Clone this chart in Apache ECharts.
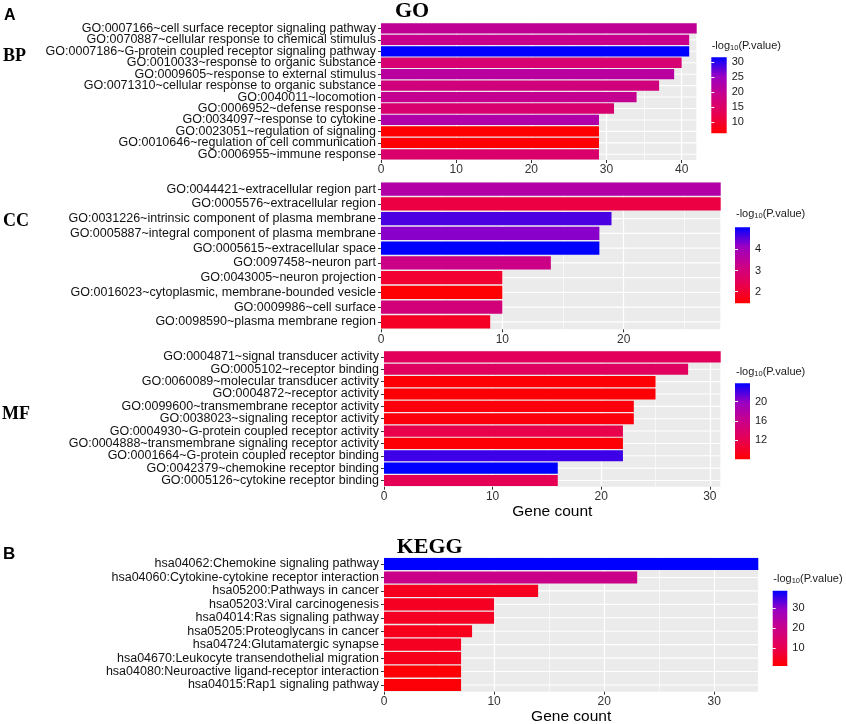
<!DOCTYPE html>
<html><head><meta charset="utf-8">
<script src="https://cdn.jsdelivr.net/npm/echarts@6.0.0/dist/echarts.min.js"></script>
<style>html,body{margin:0;padding:0;background:#fff}#c{width:846px;height:724px}</style>
</head><body><div id="c"></div>
<script>
// ---------- DATA ----------
const bpTerms = [
  "GO:0007166~cell surface receptor signaling pathway",
  "GO:0070887~cellular response to chemical stimulus",
  "GO:0007186~G-protein coupled receptor signaling pathway",
  "GO:0010033~response to organic substance",
  "GO:0009605~response to external stimulus",
  "GO:0071310~cellular response to organic substance",
  "GO:0040011~locomotion",
  "GO:0006952~defense response",
  "GO:0034097~response to cytokine",
  "GO:0023051~regulation of signaling",
  "GO:0010646~regulation of cell communication",
  "GO:0006955~immune response"
];
const bpCounts = [42, 41, 41, 40, 39, 37, 34, 31, 29, 29, 29, 29];
const bpLogP = [20.3, 19.3, 31.7, 16.5, 21.3, 17.7, 19.8, 16.0, 22.3, 6.3, 6.5, 15.7];

const ccTerms = [
  "GO:0044421~extracellular region part",
  "GO:0005576~extracellular region",
  "GO:0031226~intrinsic component of plasma membrane",
  "GO:0005887~integral component of plasma membrane",
  "GO:0005615~extracellular space",
  "GO:0097458~neuron part",
  "GO:0043005~neuron projection",
  "GO:0016023~cytoplasmic, membrane-bounded vesicle",
  "GO:0009986~cell surface",
  "GO:0098590~plasma membrane region"
];
const ccCounts = [28, 28, 19, 18, 18, 14, 10, 10, 10, 9];
const ccLogP = [3.7, 2.2, 4.6, 4.25, 5.04, 3.2, 2.0, 1.5, 3.0, 1.85];

const mfTerms = [
  "GO:0004871~signal transducer activity",
  "GO:0005102~receptor binding",
  "GO:0060089~molecular transducer activity",
  "GO:0004872~receptor activity",
  "GO:0099600~transmembrane receptor activity",
  "GO:0038023~signaling receptor activity",
  "GO:0004930~G-protein coupled receptor activity",
  "GO:0004888~transmembrane signaling receptor activity",
  "GO:0001664~G-protein coupled receptor binding",
  "GO:0042379~chemokine receptor binding",
  "GO:0005126~cytokine receptor binding"
];
const mfCounts = [31, 28, 25, 25, 23, 23, 22, 22, 22, 16, 16];
const mfLogP = [12.7, 13.0, 8.3, 8.3, 8.6, 8.6, 11.8, 8.3, 22.2, 23.8, 12.3];

const keggTerms = [
  "hsa04062:Chemokine signaling pathway",
  "hsa04060:Cytokine-cytokine receptor interaction",
  "hsa05200:Pathways in cancer",
  "hsa05203:Viral carcinogenesis",
  "hsa04014:Ras signaling pathway",
  "hsa05205:Proteoglycans in cancer",
  "hsa04724:Glutamatergic synapse",
  "hsa04670:Leukocyte transendothelial migration",
  "hsa04080:Neuroactive ligand-receptor interaction",
  "hsa04015:Rap1 signaling pathway"
];
const keggCounts = [34, 23, 14, 10, 10, 8, 7, 7, 7, 7];
const keggLogP = [38.8, 20.0, 4.9, 5.2, 5.2, 4.5, 5.0, 4.5, 1.5, 2.0];

const bpCountTicks = [0, 10, 20, 30, 40];
const ccCountTicks = [0, 10, 20];
const mfCountTicks = [0, 10, 20, 30];
const keggCountTicks = [0, 10, 20, 30];

const bpRange = [6.3, 31.7], bpLegendTicks = [10, 15, 20, 25, 30];
const ccRange = [1.45, 5.04], ccLegendTicks = [2, 3, 4];
const mfRange = [8.0, 23.8], mfLegendTicks = [12, 16, 20];
const keggRange = [1.15, 38.8], keggLegendTicks = [10, 20, 30];

const xMaxes = {bp: 42, cc: 28, mf: 31, kegg: 34};
const legendTitle = "-log{s|10}(P.value)";
const axisName = "Gene count";

// ---------- LAYOUT / STYLE ----------
const SANS = '"Liberation Sans", Arial, sans-serif';
const SERIF = '"Liberation Serif", "Times New Roman", serif';
const gradColors = ['#FF0000', '#E80050', '#CA0089', '#9A00C3', '#0000FF'];

const panels = [
  {terms: bpTerms, counts: bpCounts, logp: bpLogP, xMax: xMaxes.bp, ticks: bpCountTicks,
   range: bpRange, lticks: bpLegendTicks, name: '',
   grid: {left: 381, top: 22.7, width: 315.7, height: 137.3},
   leg: {left: 711.3, top: 57.3, width: 15.4, height: 76}, lt: {left: 711.7, top: 40}},
  {terms: ccTerms, counts: ccCounts, logp: ccLogP, xMax: xMaxes.cc, ticks: ccCountTicks,
   range: ccRange, lticks: ccLegendTicks, name: '',
   grid: {left: 381, top: 181.7, width: 339.7, height: 147.6},
   leg: {left: 735, top: 227.3, width: 15, height: 76}, lt: {left: 736, top: 208}},
  {terms: mfTerms, counts: mfCounts, logp: mfLogP, xMax: xMaxes.mf, ticks: mfCountTicks,
   range: mfRange, lticks: mfLegendTicks, name: axisName,
   grid: {left: 384, top: 350.7, width: 336.7, height: 136},
   leg: {left: 735, top: 383.3, width: 15, height: 76}, lt: {left: 736, top: 366}},
  {terms: keggTerms, counts: keggCounts, logp: keggLogP, xMax: xMaxes.kegg, ticks: keggCountTicks,
   range: keggRange, lticks: keggLegendTicks, name: axisName,
   grid: {left: 384, top: 557.3, width: 374.3, height: 134.4},
   leg: {left: 772.7, top: 590.7, width: 14.6, height: 75.3}, lt: {left: 773.3, top: 573}}
];

const grids = [], xAxes = [], yAxes = [], series = [], visualMaps = [], graphics = [];

panels.forEach(p => {
  const gi = grids.length;
  grids.push(Object.assign({show: true, backgroundColor: '#EBEBEB', borderWidth: 0, outerBoundsMode: 'none', containLabel: false}, p.grid));
  const xi = xAxes.length;
  xAxes.push({
    type: 'value', gridIndex: gi, min: 0, max: p.xMax, interval: 10, z: 1,
    axisLine: {show: false},
    axisTick: {show: true, length: 3, lineStyle: {color: '#333', width: 1}, customValues: p.ticks},
    axisLabel: {customValues: p.ticks, fontSize: 12, color: '#333', margin: 4, fontFamily: SANS},
    splitLine: {show: true, lineStyle: {color: '#fff', width: 1.2}},
    name: p.name, nameLocation: 'middle', nameGap: 16,
    nameTextStyle: {fontSize: 15.5, color: '#000', fontFamily: SANS, verticalAlign: 'top'}
  });
  xAxes.push({
    type: 'value', gridIndex: gi, min: 0, max: p.xMax, interval: 5, position: 'bottom', z: 0,
    axisLine: {show: false}, axisTick: {show: false}, axisLabel: {show: false},
    splitLine: {show: true, lineStyle: {color: '#fff', width: 0.6}}
  });
  const yi = yAxes.length;
  yAxes.push({
    type: 'category', gridIndex: gi, data: p.terms, inverse: true,
    axisLine: {show: false},
    axisTick: {show: true, length: 3, alignWithLabel: true, lineStyle: {color: '#333'}},
    axisLabel: {interval: 0, fontSize: 12.5, color: '#111', margin: 5, fontFamily: SANS},
    splitLine: {show: false}
  });
  // horizontal gridlines at category centres
  series.push({
    type: 'custom', xAxisIndex: xi, yAxisIndex: yi, z: 1, silent: true,
    data: p.terms.map(t => [0, t]), encode: {x: 0, y: 1},
    renderItem: (params, api) => {
      const y = api.coord([0, api.value(1)])[1];
      const cs = params.coordSys;
      return {type: 'line', shape: {x1: cs.x, y1: y, x2: cs.x + cs.width, y2: y},
              style: {stroke: '#fff', lineWidth: 1.1}};
    }
  });
  const si = series.length;
  series.push({
    type: 'bar', xAxisIndex: xi, yAxisIndex: yi, z: 2,
    data: p.terms.map((t, k) => [p.counts[k], t, p.logp[k]]),
    encode: {x: 0, y: 1}, barCategoryGap: '10%'
  });
  visualMaps.push({
    type: 'continuous', show: false, seriesIndex: si, dimension: 2,
    min: p.range[0], max: p.range[1], inRange: {color: gradColors}
  });

  // colourbar legend
  const lg = grids.length;
  grids.push(Object.assign({show: false, outerBoundsMode: 'none', containLabel: false}, p.leg));
  const lx = xAxes.length;
  xAxes.push({type: 'value', gridIndex: lg, min: 0, max: 1, show: false});
  const ly = yAxes.length;
  yAxes.push({
    type: 'value', gridIndex: lg, min: p.range[0], max: p.range[1], position: 'right', z: 5,
    axisLine: {show: false},
    axisTick: {show: true, inside: true, length: 3, customValues: p.lticks, lineStyle: {color: '#fff', width: 1}},
    axisLabel: {customValues: p.lticks, fontSize: 11, color: '#1a1a1a', margin: 5, fontFamily: SANS},
    splitLine: {show: false}
  });
  yAxes.push({
    type: 'value', gridIndex: lg, min: p.range[0], max: p.range[1], position: 'left', z: 5,
    axisLine: {show: false},
    axisTick: {show: true, inside: true, length: 3, customValues: p.lticks, lineStyle: {color: '#fff', width: 1}},
    axisLabel: {show: false}, splitLine: {show: false}
  });
  const rmin = p.range[0], rmax = p.range[1];
  series.push({
    type: 'custom', xAxisIndex: lx, yAxisIndex: ly, z: 1, silent: true,
    data: [[0, rmin]],
    renderItem: (params, api) => {
      const a = api.coord([0, rmax]);
      const b = api.coord([1, rmin]);
      return {type: 'rect', shape: {x: a[0], y: a[1], width: b[0] - a[0], height: b[1] - a[1]},
        style: {fill: new echarts.graphic.LinearGradient(0, 0, 0, 1, [
          {offset: 0, color: gradColors[4]}, {offset: 0.25, color: gradColors[3]},
          {offset: 0.5, color: gradColors[2]}, {offset: 0.75, color: gradColors[1]},
          {offset: 1, color: gradColors[0]}])}};
    }
  });
  graphics.push({
    type: 'text', left: p.lt.left, top: p.lt.top,
    style: {text: legendTitle, font: '11px ' + SANS, fill: '#1a1a1a',
            rich: {s: {fontSize: 7.5, fontFamily: SANS, fill: '#1a1a1a', verticalAlign: 'bottom', padding: [5, 0, 0, 0]}}}
  });
});

// panel letters and titles
graphics.push(
  {type: 'text', left: 4, top: 8, style: {text: 'A', font: 'bold 16px ' + SANS, fill: '#000'}},
  {type: 'text', left: 3, top: 546, style: {text: 'B', font: 'bold 17px ' + SANS, fill: '#000'}},
  {type: 'text', left: 395, top: 0, style: {text: 'GO', font: 'bold 22px ' + SERIF, fill: '#000'}},
  {type: 'text', left: 396.7, top: 536, style: {text: 'KEGG', font: 'bold 22px ' + SERIF, fill: '#000'}},
  {type: 'text', left: 3, top: 47, style: {text: 'BP', font: 'bold 18px ' + SERIF, fill: '#000'}},
  {type: 'text', left: 3, top: 212, style: {text: 'CC', font: 'bold 18px ' + SERIF, fill: '#000'}},
  {type: 'text', left: 2, top: 405.5, style: {text: 'MF', font: 'bold 18px ' + SERIF, fill: '#000'}}
);

const chart = echarts.init(document.getElementById('c'), null, {renderer: 'canvas'});
chart.setOption({
  animation: false,
  backgroundColor: '#fff',
  grid: grids, xAxis: xAxes, yAxis: yAxes, series: series,
  visualMap: visualMaps, graphic: graphics
});
</script>
</body></html>
